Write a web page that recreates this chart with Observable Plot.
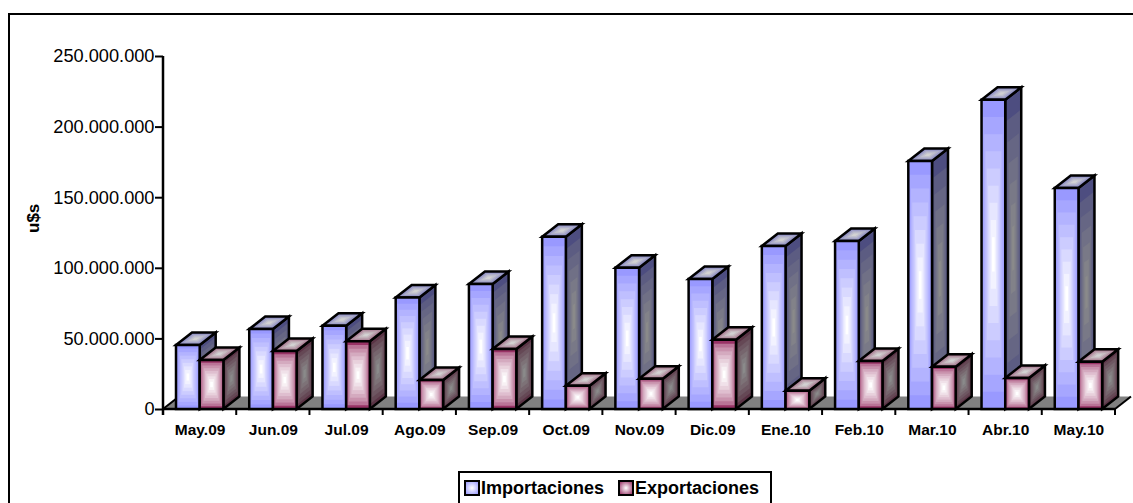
<!DOCTYPE html>
<html><head><meta charset="utf-8">
<script src="https://cdn.jsdelivr.net/npm/d3@7"></script>
<script src="https://cdn.jsdelivr.net/npm/@observablehq/plot@0.6"></script>
<style>
html,body{margin:0;padding:0;background:#fff;overflow:hidden;width:1133px;height:503px}
body{position:relative;font-family:"Liberation Sans",Arial,sans-serif}
#chart{position:absolute;left:0;top:0}
#chart svg{display:block;background:transparent}
#frame{position:absolute;left:7.5px;top:13px;width:1200px;height:600px;border:2.5px solid #000;box-sizing:border-box}
#legend{position:absolute;left:458px;top:471px;width:314px;height:60px;border:2px solid #000;box-sizing:border-box;background:#fff;
font-weight:bold;font-size:18px;color:#000;white-space:nowrap}
#legend span.sw{position:absolute;top:7px;width:12px;height:12px;border:2.5px solid #000}
#legend span.t{position:absolute;top:5px;line-height:20px}
</style></head><body>
<div id="frame"></div>
<div id="chart"></div>
<div id="legend">
<span class="sw" style="left:4px;background:radial-gradient(#fff,#9999ff)"></span><span class="t" style="left:21px">Importaciones</span>
<span class="sw" style="left:158px;background:radial-gradient(#fff,#993366)"></span><span class="t" style="left:175px">Exportaciones</span>
</div>
<script>
const months = ["May.09","Jun.09","Jul.09","Ago.09","Sep.09","Oct.09","Nov.09","Dic.09","Ene.10","Feb.10","Mar.10","Abr.10","May.10"];
const importaciones = [45.3,56.6,59,79,88.5,122,100,92,115.5,119,175.6,219,156.5].map(v => v * 1e6);
const exportaciones = [34.7,41,48,20.5,42.5,16.5,21.5,49,13,34,30,22,33.5].map(v => v * 1e6);
const yTicks = [0,50e6,100e6,150e6,200e6,250e6];

const DX = 16, DY = 12.5, BAR = 23.7, GAP = 13;
const SVGNS = "http://www.w3.org/2000/svg";
const el = (p, name, attrs) => { const e = document.createElementNS(SVGNS, name); for (const k in attrs) e.setAttribute(k, attrs[k]); p.appendChild(e); return e; };
const pts = q => q.map(p => p.join(",")).join(" ");

function nestedQuad(g, quad, edge, center, steps = 9, gamma = 0.8) {
  const cx = d3.mean(quad, p => p[0]), cy = d3.mean(quad, p => p[1]);
  const col = d3.interpolateRgb(edge, center);
  for (let k = 0; k < steps; k++) {
    const t = k / steps;
    el(g, "polygon", {points: pts(quad.map(([x, y]) => [x + (cx - x) * t, y + (cy - y) * t])), fill: col(Math.pow(k / (steps - 1), gamma)), stroke: "none"});
  }
  el(g, "polygon", {points: pts(quad), fill: "none", stroke: "#000", "stroke-width": 2.5, "stroke-linejoin": "miter"});
}

function bar3d(offset, c) {
  return function (index, scales, values, dims, ctx) {
    const root = ctx.document.createElementNS(SVGNS, "g");
    for (const i of index) {
      const x0 = scales.x(months[i]) + offset, x1 = x0 + BAR;
      const y0 = scales.y(0), y1 = scales.y(c.values[i]);
      nestedQuad(root, [[x1, y1], [x1 + DX, y1 - DY], [x1 + DX, y0 - DY], [x1, y0]], c.side, "#8a8a8a", 7, 0.8);
      nestedQuad(root, [[x0, y1], [x0 + DX, y1 - DY], [x1 + DX, y1 - DY], [x1, y1]], c.top, "#d2d2d2", 5, 0.8);
      nestedQuad(root, [[x0, y1], [x1, y1], [x1, y0], [x0, y0]], c.front, "#ffffff", 9, c.gamma);
    }
    return root;
  };
}

function floor(index, scales, values, dims, ctx) {
  const root = ctx.document.createElementNS(SVGNS, "g");
  const bw = scales.x.bandwidth();
  const xs = months.map(m => scales.x(m));
  const xa = xs[0], xb = xs[xs.length - 1] + bw, y0 = scales.y(0), yt = scales.y(250e6);
  el(root, "polygon", {points: pts([[xa, y0], [xb, y0], [xb + DX, y0 - DY], [xa + DX, y0 - DY]]), fill: "#808080"});
  el(root, "line", {x1: xa, y1: y0, x2: xa + DX, y2: y0 - DY, stroke: "#000", "stroke-width": 2});
  el(root, "line", {x1: xb, y1: y0, x2: xb + DX, y2: y0 - DY, stroke: "#000", "stroke-width": 2});
  el(root, "line", {x1: xa, y1: yt, x2: xa, y2: y0 + 6, stroke: "#000", "stroke-width": 2.5});
  el(root, "line", {x1: xa - 1, y1: y0, x2: xb, y2: y0, stroke: "#000", "stroke-width": 2.5});
  for (const x of [...xs, xb]) el(root, "line", {x1: x, y1: y0, x2: x, y2: y0 + 6, stroke: "#000", "stroke-width": 2});
  return root;
}

const font = '"Liberation Sans",Arial,sans-serif';
const fmt = d => d3.format(",")(d).replace(/,/g, ".");
const chart = Plot.plot({
  width: 1133, height: 503,
  marginLeft: 163, marginRight: 18, marginTop: 56, marginBottom: 94,
  style: {background: "transparent", fontFamily: font},
  x: {type: "band", domain: months, padding: 0, round: false, axis: null},
  y: {domain: [0, 250e6], axis: null},
  marks: [
    Plot.ruleY([0], {render: floor}),
    Plot.barY(months, {x: d => d, y: (d, i) => importaciones[i],
      render: bar3d(GAP, {values: importaciones, front: "#9999ff", side: "#4d4d80", top: "#8080c0", gamma: 1})}),
    Plot.barY(months, {x: d => d, y: (d, i) => exportaciones[i],
      render: bar3d(GAP + BAR, {values: exportaciones, front: "#993366", side: "#5a3345", top: "#a06a85", gamma: 0.55})}),
    Plot.axisY({ticks: yTicks, tickFormat: fmt, tickSize: 8, tickPadding: 1, fontSize: 18.2, fontWeight: "400", label: null, stroke: "#000", strokeWidth: 2, fill: "#000"}),
    Plot.axisX({tickSize: 0, tickPadding: 14, fontSize: 15.5, fontWeight: "bold", label: null, fill: "#000"}),
    Plot.text(["u$s"], {frameAnchor: "left", rotate: -90, dx: -130, fontWeight: "bold", fontSize: 17, fill: "#000"})
  ]
});
document.getElementById("chart").appendChild(chart);
</script>
</body></html>
